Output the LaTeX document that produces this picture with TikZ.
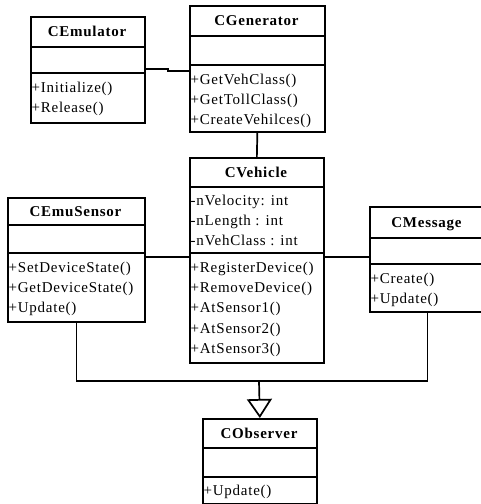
\documentclass[tikz,border=0pt]{standalone}
\usepackage{fontspec}
\setmainfont[LetterSpace=5]{Liberation Serif}
\usetikzlibrary{arrows.meta}
\begin{document}
\begin{tikzpicture}[x=1pt,y=-1pt,
  box/.style={draw,line width=1.7pt,rectangle,inner sep=0pt,anchor=north west},
  ttl/.style={font=\fontsize{15}{17}\selectfont\bfseries,inner sep=0pt,anchor=base},
  txt/.style={font=\fontsize{15}{17}\selectfont,inner sep=0pt,anchor=base west},
  sepline/.style={line width=1.7pt},
  conn/.style={line width=1.7pt}]
\useasboundingbox (0,0) rectangle (481,504);
\clip (0,0) rectangle (481,504);
% CEmulator
\node[box,minimum width=114pt,minimum height=106pt] (emu) at (30,16) {};
\draw[sepline] (emu.west |- 0,47) -- (emu.east |- 0,47);
\draw[sepline] (emu.west |- 0,73) -- (emu.east |- 0,73);
\node[ttl] (emut) at (87,36.5) {CEmulator};
\node[txt] (emum1) at (31.5,92.5) {+Initialize()};
\node[txt] (emum2) at (31.5,112.5) {+Release()};
% CGenerator
\node[box,minimum width=135pt,minimum height=126pt] (gen) at (189,5) {};
\draw[sepline] (gen.west |- 0,36) -- (gen.east |- 0,36);
\draw[sepline] (gen.west |- 0,65) -- (gen.east |- 0,65);
\node[ttl] (gent) at (256.5,25.5) {CGenerator};
\node[txt] (genm1) at (190.5,84.5) {+GetVehClass()};
\node[txt] (genm2) at (190.5,104.5) {+GetTollClass()};
\node[txt] (genm3) at (190.5,124.5) {+CreateVehilces()};
% CVehicle
\node[box,minimum width=134pt,minimum height=205pt] (veh) at (189,157) {};
\draw[sepline] (veh.west |- 0,187) -- (veh.east |- 0,187);
\draw[sepline] (veh.west |- 0,253) -- (veh.east |- 0,253);
\node[ttl] (veht) at (256,177.5) {CVehicle};
\node[txt] (veha1) at (190.5,205.5) {-nVelocity: int};
\node[txt] (veha2) at (190.5,225.5) {-nLength : int};
\node[txt] (veha3) at (190.5,245.5) {-nVehClass : int};
\node[txt] (vehm1) at (190.5,272.5) {+RegisterDevice()};
\node[txt] (vehm2) at (190.5,292.5) {+RemoveDevice()};
\node[txt] (vehm3) at (190.5,312.5) {+AtSensor1()};
\node[txt] (vehm4) at (190.5,333.5) {+AtSensor2()};
\node[txt] (vehm5) at (190.5,353.5) {+AtSensor3()};
% CEmuSensor
\node[box,minimum width=137pt,minimum height=124pt] (esen) at (7,197) {};
\draw[sepline] (esen.west |- 0,225) -- (esen.east |- 0,225);
\draw[sepline] (esen.west |- 0,253) -- (esen.east |- 0,253);
\node[ttl] (esent) at (75.5,216.5) {CEmuSensor};
\node[txt] (esenm1) at (8.5,272.5) {+SetDeviceState()};
\node[txt] (esenm2) at (8.5,292.5) {+GetDeviceState()};
\node[txt] (esenm3) at (8.5,312.5) {+Update()};
% CMessage
\node[box,minimum width=115pt,minimum height=105pt] (msg) at (369,206) {};
\draw[sepline] (msg.west |- 0,238) -- (msg.east |- 0,238);
\draw[sepline] (msg.west |- 0,264) -- (msg.east |- 0,264);
\node[ttl] (msgt) at (426.5,227.5) {CMessage};
\node[txt] (msgm1) at (370.5,283.5) {+Create()};
\node[txt] (msgm2) at (370.5,303.5) {+Update()};
% CObserver
\node[box,minimum width=114pt,minimum height=85pt] (obs) at (202,418) {};
\draw[sepline] (obs.west |- 0,448) -- (obs.east |- 0,448);
\draw[sepline] (obs.west |- 0,477) -- (obs.east |- 0,477);
\node[ttl] (obst) at (259,438.5) {CObserver};
\node[txt] (obsm1) at (203.5,495.5) {+Update()};
% connectors
\draw[conn] ([yshift=1pt]emu.east) -- ++(22,0) |- ([yshift=-2pt]gen.west);
\draw[conn] (gen.south) -- (veh.north);
\draw[conn] (esen.east |- 0,257) -- (veh.west |- 0,257);
\draw[conn] (veh.east |- 0,257) -- (msg.west |- 0,257);
\coordinate (hub) at (259,381);
\draw[conn] (esen.south) |- (hub);
\draw[conn] (msg.south) |- (hub);
\draw[conn,-{Triangle[open,length=19pt,width=25pt]}] (hub) -- (obs.north);
\end{tikzpicture}
\end{document}
